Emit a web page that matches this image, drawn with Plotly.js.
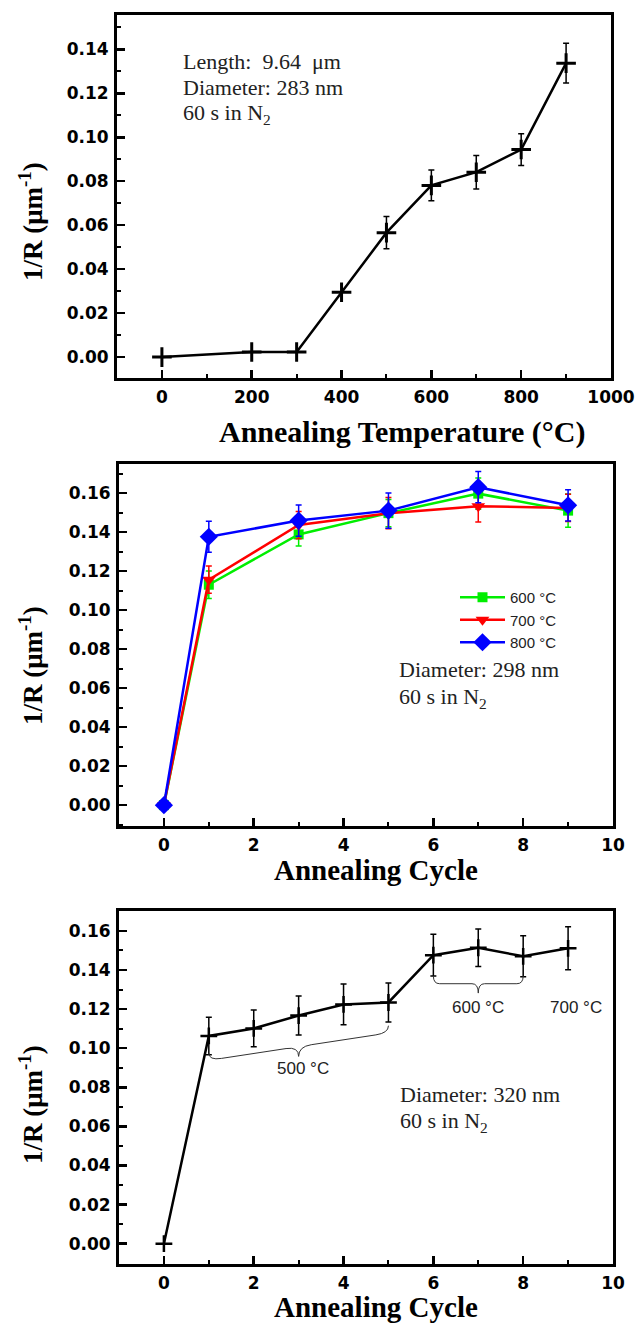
<!DOCTYPE html>
<html><head><meta charset="utf-8">
<script src="https://cdn.plot.ly/plotly-3.0.1.min.js"></script>
<style>html,body{margin:0;padding:0;background:#fff}#chart{width:636px;height:1323px}</style>
</head><body><div id="chart"></div>
<script>
// ---------- Panel 1: 1/R vs annealing temperature ----------
const tempC = [0, 200, 300, 400, 500, 600, 700, 800, 900];
const invR_temp = [0.000, 0.0023, 0.0023, 0.0295, 0.0566, 0.0781, 0.0841, 0.0944, 0.1337];
const invR_temp_err = [0, 0, 0, 0, 0.0073, 0.0070, 0.0076, 0.0072, 0.0090];

// ---------- Panel 2: 1/R vs annealing cycle, three temperatures ----------
const cycles_b = [0, 1, 3, 5, 7, 9];
const invR_600 = [0, 0.1130, 0.1388, 0.1497, 0.1597, 0.1510];
const err_600  = [0, 0.0070, 0.0060, 0.0070, 0.0080, 0.0085];
const invR_700 = [0, 0.1156, 0.1436, 0.1497, 0.1532, 0.1524];
const err_700  = [0, 0.0070, 0.0070, 0.0080, 0.0080, 0.0070];
const invR_800 = [0, 0.1376, 0.1459, 0.1510, 0.1630, 0.1537];
const err_800  = [0, 0.0080, 0.0080, 0.0090, 0.0080, 0.0080];
const seriesNames = ['600 °C', '700 °C', '800 °C'];

// ---------- Panel 3: 1/R vs annealing cycle, stepped temperature ----------
const cycles_c = [0, 1, 2, 3, 4, 5, 6, 7, 8, 9];
const invR_c = [0, 0.1063, 0.1101, 0.1167, 0.1224, 0.1234, 0.1476, 0.1514, 0.1470, 0.1511];
const err_c  = [0, 0.0096, 0.0094, 0.0100, 0.0104, 0.0100, 0.0107, 0.0096, 0.0105, 0.0110];
const stageLabels = ['500 °C', '600 °C', '700 °C'];

const xTitles = ['Annealing Temperature (°C)', 'Annealing Cycle', 'Annealing Cycle'];
const yTitleText = '1/R (μm<sup>-1</sup>)';

const BLACK = '#000';
const tickFont = {family: 'DejaVu Sans, Liberation Sans, Arial, sans-serif', size: 17, color: BLACK, weight: 'bold'};
const titleFont = {family: 'Liberation Serif, Times New Roman, serif', size: 30, color: BLACK, weight: 'bold'};
const titleFont2 = {family: 'Liberation Serif, Times New Roman, serif', size: 29, color: BLACK, weight: 'bold'};
const yTitleFont = {family: 'Liberation Serif, Times New Roman, serif', size: 27, color: BLACK, weight: 'bold'};
const noteFont = {family: 'Liberation Serif, Times New Roman, serif', size: 22, color: '#222'};
const labFont = {family: 'Liberation Sans, Arial, sans-serif', size: 17, color: '#222'};

function axis(extra) {
  return Object.assign({
    showgrid: false, zeroline: false, showline: true, linecolor: BLACK, linewidth: 3,
    mirror: true, ticks: 'inside', ticklen: 8, tickwidth: 2.5, tickcolor: BLACK,
    tickfont: tickFont, automargin: false, ticklabelstandoff: 2
  }, extra);
}
const minorX = d => ({ticks: 'inside', ticklen: 4, tickwidth: 2, tickcolor: BLACK, dtick: d});

const traces = [];
traces.push({
  x: tempC, y: invR_temp, type: 'scatter', mode: 'lines+markers', xaxis: 'x', yaxis: 'y',
  line: {color: BLACK, width: 2.5},
  marker: {symbol: 'cross-thin', size: 14, color: BLACK, line: {color: BLACK, width: 3}},
  error_y: {type: 'data', array: invR_temp_err, visible: true, color: BLACK, thickness: 1.5, width: 3},
  showlegend: false
});

const midColors = ['#00ee00', '#ff0000', '#0000ff'];
const midSymbols = ['square', 'triangle-down', 'diamond'];
const midSizes = [10, 12, 14];
const midY = [invR_600, invR_700, invR_800];
const midE = [err_600, err_700, err_800];
for (let i = 0; i < 3; i++) {
  traces.push({
    x: cycles_b, y: midY[i], name: seriesNames[i], type: 'scatter', mode: 'lines+markers',
    xaxis: 'x2', yaxis: 'y2',
    line: {color: midColors[i], width: 2.5},
    marker: {symbol: midSymbols[i], size: midSizes[i], color: midColors[i]},
    error_y: {type: 'data', array: midE[i], visible: true, color: midColors[i], thickness: 1.5, width: 3}
  });
}

traces.push({
  x: cycles_c, y: invR_c, type: 'scatter', mode: 'lines+markers', xaxis: 'x3', yaxis: 'y3',
  line: {color: BLACK, width: 2.5},
  marker: {symbol: 'cross-thin', size: 12, color: BLACK, line: {color: BLACK, width: 2.5}},
  error_y: {type: 'data', array: err_c, visible: true, color: BLACK, thickness: 1.5, width: 3},
  showlegend: false
});

// curly brace path in data coordinates
function bracePath(x1, y1, x2, y2, h, t) {
  const mx = (x1 + x2) / 2, my = (y1 + y2) / 2, dx = x2 - x1, dy = y2 - y1, f = 0.07;
  const p = (x, y) => x + ',' + y;
  return 'M' + p(x1, y1) +
    ' Q' + p(x1, y1 - h) + ' ' + p(x1 + f * dx, y1 + f * dy - h) +
    ' L' + p(mx - f * dx, my - f * dy - h) +
    ' Q' + p(mx, my - h) + ' ' + p(mx, my - h - t) +
    ' Q' + p(mx, my - h) + ' ' + p(mx + f * dx, my + f * dy - h) +
    ' L' + p(x2 - f * dx, y2 - f * dy - h) +
    ' Q' + p(x2, y2 - h) + ' ' + p(x2, y2);
}

const H = 1323, W = 636;
function paperText(px, py, text, font, angle) {
  return {xref: 'paper', yref: 'paper', x: px / W, y: 1 - py / H, xanchor: 'center', yanchor: 'middle',
    showarrow: false, text: text, font: font, textangle: angle || 0};
}
function note(ax, x, y, text, font, anchor) {
  return {xref: 'x' + ax, yref: 'y' + ax, x: x, y: y, xanchor: anchor || 'left', yanchor: 'middle',
    showarrow: false, text: text, font: font};
}

const layout = {
  width: W, height: H,
  margin: {l: 0, r: 0, t: 0, b: 0},
  paper_bgcolor: '#fff', plot_bgcolor: '#fff',
  xaxis: axis({domain: [117/W, 611/W], anchor: 'y', range: [-100, 1000], dtick: 200, tick0: 0,
    minor: minorX(100)}),
  yaxis: axis({domain: [1 - 378/H, 1 - 15/H], anchor: 'x', range: [-0.0095, 0.1556], dtick: 0.02, tick0: 0,
    tickformat: '.2f', minor: minorX(0.01)}),
  xaxis2: axis({domain: [119/W, 613/W], anchor: 'y2', range: [-1, 10], dtick: 2, tick0: 0,
    minor: minorX(1)}),
  yaxis2: axis({domain: [1 - 826/H, 1 - 464/H], anchor: 'x2', range: [-0.0107, 0.1749], dtick: 0.02, tick0: 0,
    tickformat: '.2f', minor: minorX(0.01)}),
  xaxis3: axis({domain: [119/W, 613/W], anchor: 'y3', range: [-1, 10], dtick: 2, tick0: 0,
    minor: minorX(1)}),
  yaxis3: axis({domain: [1 - 1264/H, 1 - 911/H], anchor: 'x3', range: [-0.0104, 0.1702], dtick: 0.02, tick0: 0,
    tickformat: '.2f', minor: minorX(0.01)}),
  showlegend: true,
  legend: {x: 455/W, y: 1 - 581/H, xanchor: 'left', yanchor: 'top', bgcolor: 'rgba(0,0,0,0)',
    font: {family: 'Liberation Sans, Arial, sans-serif', size: 15, color: '#222'}, itemwidth: 45},
  annotations: [
    paperText(402, 432, xTitles[0], titleFont),
    paperText(376, 870, xTitles[1], titleFont2),
    paperText(376, 1307, xTitles[2], titleFont2),
    paperText(31, 222, yTitleText, yTitleFont, -90),
    paperText(31, 666, yTitleText, yTitleFont, -90),
    paperText(31, 1105, yTitleText, yTitleFont, -90),
    note('', 42, 0.1344, 'Length:\u00a0 9.64\u00a0 μm', noteFont),
    note('', 42, 0.1228, 'Diameter: 283 nm', noteFont),
    note('', 42, 0.1105, '60 s in N<sub>2</sub>', noteFont),
    note('2', 5.19, 0.0693, 'Diameter: 298 nm', noteFont),
    note('2', 5.19, 0.0551, '60 s in N<sub>2</sub>', noteFont),
    note('3', 5.22, 0.0763, 'Diameter: 320 nm', noteFont),
    note('3', 5.22, 0.0623, '60 s in N<sub>2</sub>', noteFont),
    note('3', 3.1, 0.0895, stageLabels[0], labFont, 'center'),
    note('3', 7.0, 0.1210, stageLabels[1], labFont, 'center'),
    note('3', 9.17, 0.1210, stageLabels[2], labFont, 'center')
  ],
  shapes: [
    {type: 'path', xref: 'x3', yref: 'y3', path: bracePath(1, 0.0975, 5, 0.1115, 0.0037, 0.005),
      line: {color: '#333', width: 1}},
    {type: 'path', xref: 'x3', yref: 'y3', path: bracePath(6, 0.1370, 8, 0.1370, 0.0040, 0.0048),
      line: {color: '#333', width: 1}}
  ]
};

Plotly.newPlot('chart', traces, layout, {staticPlot: true, displayModeBar: false});
</script>
</body></html>
